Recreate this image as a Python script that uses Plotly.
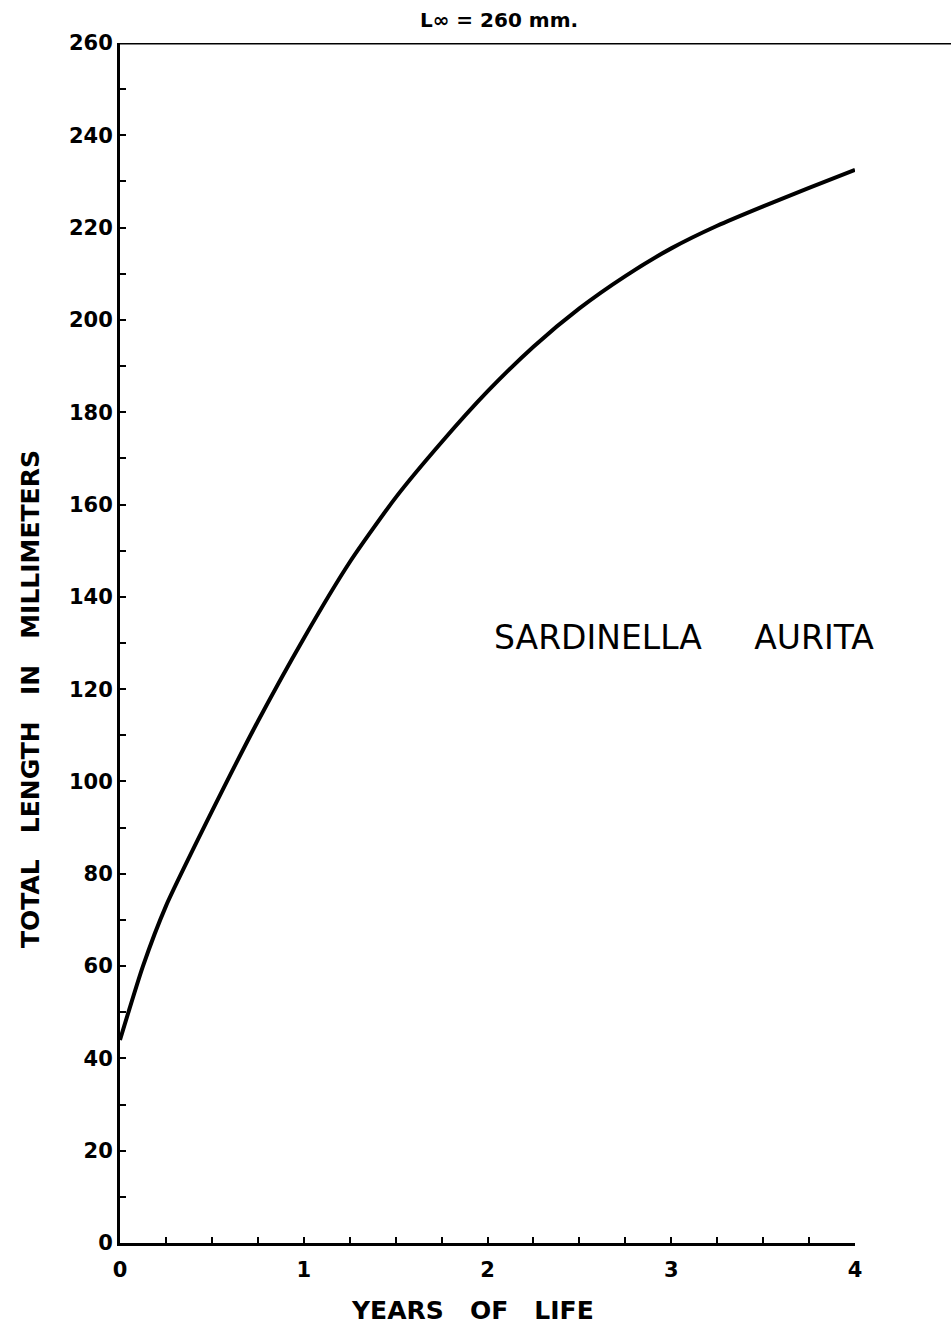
import plotly.graph_objects as go

# Growth curve (years, total length in mm)
years = [0.0, 0.125, 0.25, 0.5, 0.75, 1.0, 1.25, 1.5, 1.75, 2.0, 2.25, 2.5, 2.75, 3.0, 3.25, 3.5, 3.75, 4.0]
length_mm = [44, 60, 73, 93.5, 113, 131, 147.5, 161.5, 173.5, 184.5, 194.2, 202.5, 209.5, 215.5, 220.4, 224.6, 228.6, 232.5]

l_inf = 260
y_tickvals = list(range(0, 261, 20))
x_tickvals = [0, 1, 2, 3, 4]
x_ticktext = ["0", "1", "2", "3", "4"]

W, H = 951, 1326
ML, MR, MT, MB = 120, 96, 43, 83
PW, PH = W - ML - MR, H - MT - MB

def px_x(p):
    return (p - ML) / PW

def px_y(p):
    return (H - MB - p) / PH

fig = go.Figure()
fig.add_trace(go.Scatter(
    x=years, y=length_mm, mode="lines",
    line=dict(color="black", width=4, shape="spline", smoothing=0.6),
    showlegend=False, hoverinfo="skip",
))

tickfont = dict(family="DejaVu Sans", size=21, color="black", weight="bold")

fig.update_layout(
    width=W, height=H,
    margin=dict(l=ML, r=MR, t=MT, b=MB),
    paper_bgcolor="white", plot_bgcolor="white",
    showlegend=False,
    xaxis=dict(
        range=[0, 4], showgrid=False, zeroline=False,
        showline=True, linecolor="black", linewidth=3,
        tickmode="array", tickvals=x_tickvals, ticktext=x_ticktext,
        ticks="inside", ticklen=6, tickwidth=2, tickcolor="black",
        minor=dict(dtick=0.25, ticks="inside", ticklen=6, tickwidth=2, tickcolor="black"),
        tickfont=tickfont, ticklabelstandoff=6,
    ),
    yaxis=dict(
        range=[0, 260], showgrid=False, zeroline=False,
        showline=True, linecolor="black", linewidth=3,
        tickmode="array", tickvals=y_tickvals,
        ticks="inside", ticklen=6, tickwidth=2, tickcolor="black",
        minor=dict(dtick=10, ticks="inside", ticklen=6, tickwidth=2, tickcolor="black"),
        tickfont=tickfont, ticklabelstandoff=0,
    ),
)

# L-infinity line along the top, running past the x-axis end to the page edge
fig.add_shape(type="line", xref="paper", yref="y",
              x0=0, x1=(W - ML) / PW, y0=l_inf, y1=l_inf,
              line=dict(color="black", width=3), layer="above")

common = dict(xref="paper", yref="paper", showarrow=False, xanchor="center", yanchor="middle")

fig.add_annotation(text="L\u221e = 260 mm.", x=px_x(499), y=px_y(20),
                   font=dict(family="DejaVu Sans", size=20, color="black", weight="bold"), **common)

fig.add_annotation(text="TOTAL   LENGTH   IN   MILLIMETERS", x=px_x(30), y=px_y(699), textangle=-90,
                   font=dict(family="DejaVu Sans", size=25, color="black", weight="bold"), **common)

fig.add_annotation(text="YEARS   OF   LIFE", x=px_x(472), y=px_y(1310),
                   font=dict(family="DejaVu Sans", size=25, color="black", weight="bold"), **common)

fig.add_annotation(text="SARDINELLA     AURITA", xref="x", yref="y",
                   x=3.07, y=131.3, showarrow=False, xanchor="center", yanchor="middle",
                   font=dict(family="DejaVu Sans", size=33, color="black"))

fig.write_html("out.html")
